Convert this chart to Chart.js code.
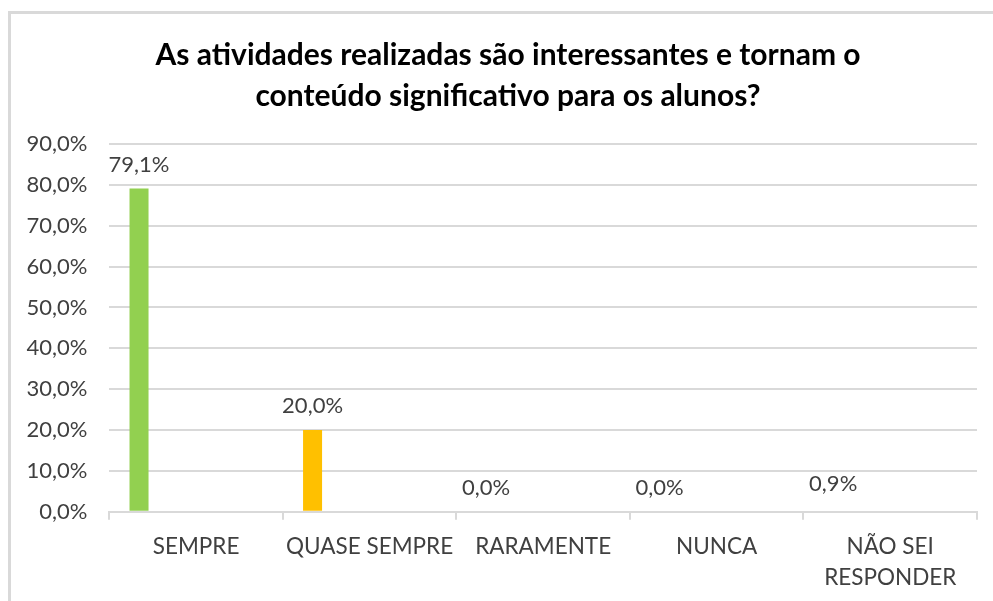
<!DOCTYPE html>
<html>
<head>
<meta charset="utf-8">
<script src="https://cdn.jsdelivr.net/npm/chart.js@4.4.1/dist/chart.umd.min.js"></script>
<style>
html,body{margin:0;padding:0;background:#ffffff;overflow:hidden}
#wrap{width:993px;height:601px;position:relative}
</style>
</head>
<body>
<div id="wrap"><canvas id="c" width="993" height="601"></canvas></div>
<script>
const titleLines = ['As atividades realizadas são interessantes e tornam o', 'conteúdo significativo para os alunos?'];
const categories = ['SEMPRE', 'QUASE SEMPRE', 'RARAMENTE', 'NUNCA', ['NÃO SEI', 'RESPONDER']];
const values = [79.1, 20.0, 0.0, 0.0, 0.9];
const barColors = ['#92D050', '#FFC000', '#5B9BD5', '#A5A5A5', '#FFFFFF'];
const yMin = 0, yMax = 90, yStep = 10;
const emptySeriesCount = 6; // unused series that reserve slots in each group

const FONT = 'Lato, "Open Sans", "Liberation Sans", sans-serif';
const fmt = v => v.toFixed(1).replace('.', ',') + '%';

const frame = {
  id: 'frame',
  beforeDraw(chart) {
    const ctx = chart.ctx;
    ctx.save();
    ctx.fillStyle = '#ffffff';
    ctx.fillRect(0, 0, chart.width, chart.height);
    ctx.fillStyle = '#D9D9D9';
    ctx.fillRect(8, 11, 3, chart.height - 11);
    ctx.fillRect(8, 11, chart.width - 8, 3);
    ctx.restore();
  }
};

const chartTitle = {
  id: 'chartTitle',
  afterDraw(chart) {
    const ctx = chart.ctx;
    ctx.save();
    ctx.font = 'bold 30px ' + FONT;
    ctx.fillStyle = '#000000';
    ctx.textAlign = 'center';
    ctx.textBaseline = 'middle';
    titleLines.forEach((line, i) => ctx.fillText(line, 508, 55.5 + i * 41));
    ctx.restore();
  }
};

const dataLabels = {
  id: 'dataLabels',
  afterDatasetsDraw(chart) {
    const ctx = chart.ctx;
    const meta = chart.getDatasetMeta(0);
    ctx.save();
    ctx.font = '22px ' + FONT;
    ctx.fillStyle = '#404040';
    ctx.textAlign = 'center';
    ctx.textBaseline = 'alphabetic';
    meta.data.forEach((el, i) => {
      ctx.fillText(fmt(values[i]), el.x, el.y - 17);
    });
    ctx.restore();
  }
};

const datasets = [{
  label: 'Resposta',
  data: values,
  backgroundColor: barColors,
  borderWidth: 0
}];
for (let k = 0; k < emptySeriesCount; k++) {
  datasets.push({ label: '', data: categories.map(() => null), backgroundColor: '#ffffff' });
}

new Chart(document.getElementById('c'), {
  type: 'bar',
  data: { labels: categories, datasets },
  plugins: [frame, dataLabels, chartTitle],
  options: {
    responsive: false,
    animation: false,
    devicePixelRatio: 1,
    categoryPercentage: 0.767,
    barPercentage: 1.0,
    layout: { padding: { left: 0, right: 16, top: 144, bottom: 0 } },
    plugins: {
      legend: { display: false },
      tooltip: { enabled: false },
      title: { display: false }
    },
    scales: {
      x: {
        grid: { offset: true, drawOnChartArea: false, drawTicks: true, tickLength: 8, color: '#D9D9D9', lineWidth: 2 },
        border: { display: true, color: '#D9D9D9', width: 2 },
        ticks: { color: '#404040', font: { family: FONT, size: 22.5, lineHeight: 1.37 }, padding: 12, maxRotation: 0, minRotation: 0, autoSkip: false },
        afterFit(scale) { scale.height = 89.3; }
      },
      y: {
        min: yMin, max: yMax,
        grid: { color: '#D9D9D9', lineWidth: 2, drawTicks: false },
        border: { display: false },
        ticks: { stepSize: yStep, color: '#404040', font: { family: FONT, size: 22 }, padding: 22, callback: v => fmt(v) },
        afterFit(scale) { scale.width = 109.3; }
      }
    }
  }
});
</script>
</body>
</html>
